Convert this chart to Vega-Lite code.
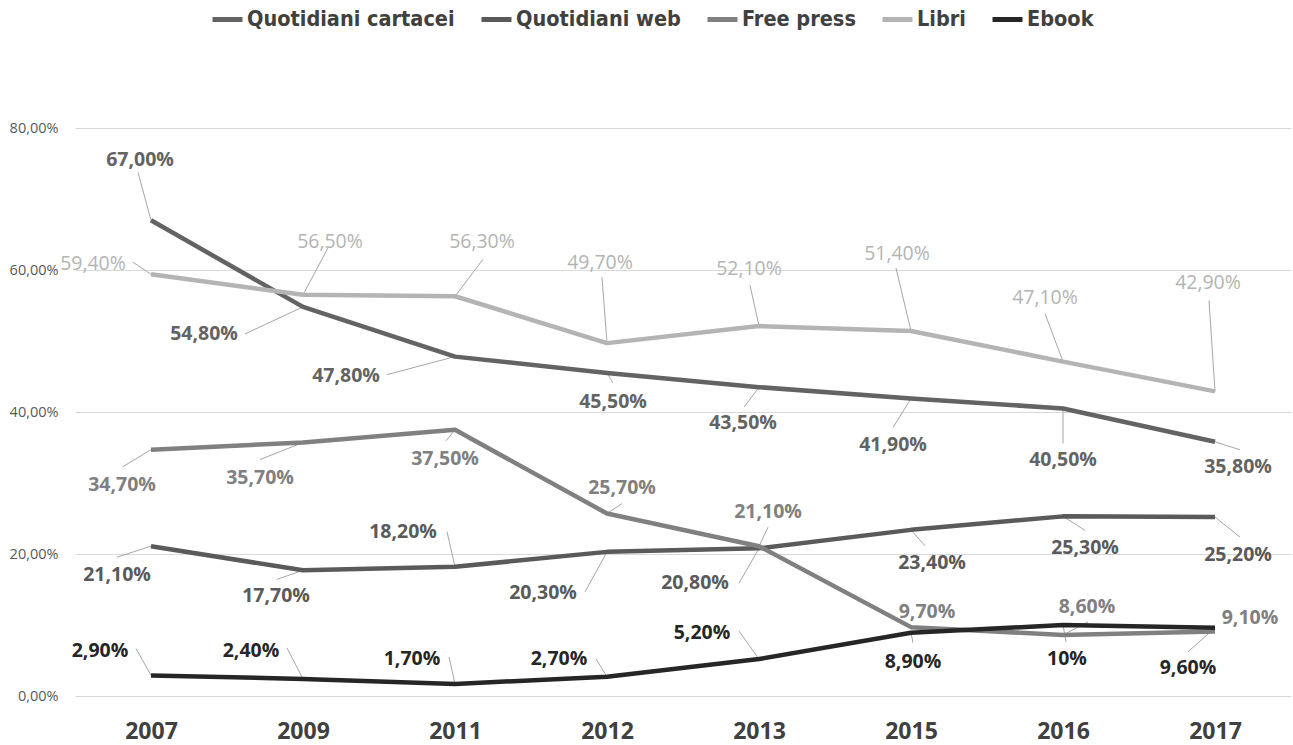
{
"$schema":"https://vega.github.io/schema/vega-lite/v6.json",
"autosize":{"type":"none"},
"width":1216,"height":568,
"padding":{"left":75,"top":128,"right":2,"bottom":49},
"background":"white",
"data":{"values":[
{"s":"Quotidiani cartacei","year":"2007","v":67.0,"label":"67,00%"},
{"s":"Quotidiani cartacei","year":"2009","v":54.8,"label":"54,80%"},
{"s":"Quotidiani cartacei","year":"2011","v":47.8,"label":"47,80%"},
{"s":"Quotidiani cartacei","year":"2012","v":45.5,"label":"45,50%"},
{"s":"Quotidiani cartacei","year":"2013","v":43.5,"label":"43,50%"},
{"s":"Quotidiani cartacei","year":"2015","v":41.9,"label":"41,90%"},
{"s":"Quotidiani cartacei","year":"2016","v":40.5,"label":"40,50%"},
{"s":"Quotidiani cartacei","year":"2017","v":35.8,"label":"35,80%"},
{"s":"Quotidiani web","year":"2007","v":21.1,"label":"21,10%"},
{"s":"Quotidiani web","year":"2009","v":17.7,"label":"17,70%"},
{"s":"Quotidiani web","year":"2011","v":18.2,"label":"18,20%"},
{"s":"Quotidiani web","year":"2012","v":20.3,"label":"20,30%"},
{"s":"Quotidiani web","year":"2013","v":20.8,"label":"20,80%"},
{"s":"Quotidiani web","year":"2015","v":23.4,"label":"23,40%"},
{"s":"Quotidiani web","year":"2016","v":25.3,"label":"25,30%"},
{"s":"Quotidiani web","year":"2017","v":25.2,"label":"25,20%"},
{"s":"Free press","year":"2007","v":34.7,"label":"34,70%"},
{"s":"Free press","year":"2009","v":35.7,"label":"35,70%"},
{"s":"Free press","year":"2011","v":37.5,"label":"37,50%"},
{"s":"Free press","year":"2012","v":25.7,"label":"25,70%"},
{"s":"Free press","year":"2013","v":21.1,"label":"21,10%"},
{"s":"Free press","year":"2015","v":9.7,"label":"9,70%"},
{"s":"Free press","year":"2016","v":8.6,"label":"8,60%"},
{"s":"Free press","year":"2017","v":9.1,"label":"9,10%"},
{"s":"Libri","year":"2007","v":59.4,"label":"59,40%"},
{"s":"Libri","year":"2009","v":56.5,"label":"56,50%"},
{"s":"Libri","year":"2011","v":56.3,"label":"56,30%"},
{"s":"Libri","year":"2012","v":49.7,"label":"49,70%"},
{"s":"Libri","year":"2013","v":52.1,"label":"52,10%"},
{"s":"Libri","year":"2015","v":51.4,"label":"51,40%"},
{"s":"Libri","year":"2016","v":47.1,"label":"47,10%"},
{"s":"Libri","year":"2017","v":42.9,"label":"42,90%"},
{"s":"Ebook","year":"2007","v":2.9,"label":"2,90%"},
{"s":"Ebook","year":"2009","v":2.4,"label":"2,40%"},
{"s":"Ebook","year":"2011","v":1.7,"label":"1,70%"},
{"s":"Ebook","year":"2012","v":2.7,"label":"2,70%"},
{"s":"Ebook","year":"2013","v":5.2,"label":"5,20%"},
{"s":"Ebook","year":"2015","v":8.9,"label":"8,90%"},
{"s":"Ebook","year":"2016","v":10,"label":"10%"},
{"s":"Ebook","year":"2017","v":9.6,"label":"9,60%"}
]},
"encoding":{
 "x":{"field":"year","type":"ordinal","scale":{"type":"point","padding":0.5},"sort":null,
  "axis":{"title":null,"domain":false,"ticks":false,"grid":false,"labelAngle":0,"labelFont":"Open Sans","labelFontSize":23,"labelFontWeight":"bold","labelColor":"#404040","labelPadding":24}},
 "y":{"field":"v","type":"quantitative","scale":{"domain":[0,80],"nice":false},
  "axis":{"title":null,"domain":false,"ticks":false,"values":[0,20,40,60,80],"gridColor":"#d9d9d9","gridWidth":1,"labelFont":"Open Sans","labelFontSize":14.5,"labelColor":"#595959","labelPadding":17,"labelExpr":"replace(format(datum.value,'.2f'),'.',',')+'%'"}}
},
"layer":[
 {"layer":[
  {"transform":[{"filter":"datum.s=='Quotidiani cartacei'"}],"layer":[
   {"transform":[{"filter":"datum.year=='2007'"}],"mark":{"type":"rule","x2Offset":-13,"y2Offset":-48}},
   {"transform":[{"filter":"datum.year=='2009'"}],"mark":{"type":"rule","x2Offset":-58,"y2Offset":27}},
   {"transform":[{"filter":"datum.year=='2011'"}],"mark":{"type":"rule","x2Offset":-68,"y2Offset":18}},
   {"transform":[{"filter":"datum.year=='2012'"}],"mark":{"type":"rule","x2Offset":6,"y2Offset":10}},
   {"transform":[{"filter":"datum.year=='2013'"}],"mark":{"type":"rule","x2Offset":-15,"y2Offset":20}},
   {"transform":[{"filter":"datum.year=='2015'"}],"mark":{"type":"rule","x2Offset":-18,"y2Offset":29}},
   {"transform":[{"filter":"datum.year=='2016'"}],"mark":{"type":"rule","x2Offset":0,"y2Offset":35}},
   {"transform":[{"filter":"datum.year=='2017'"}],"mark":{"type":"rule","x2Offset":25,"y2Offset":8}}
  ]},
  {"transform":[{"filter":"datum.s=='Libri'"}],"layer":[
   {"transform":[{"filter":"datum.year=='2007'"}],"mark":{"type":"rule","x2Offset":-18,"y2Offset":-12}},
   {"transform":[{"filter":"datum.year=='2009'"}],"mark":{"type":"rule","x2Offset":25,"y2Offset":-47}},
   {"transform":[{"filter":"datum.year=='2011'"}],"mark":{"type":"rule","x2Offset":28,"y2Offset":-37}},
   {"transform":[{"filter":"datum.year=='2012'"}],"mark":{"type":"rule","x2Offset":-5,"y2Offset":-66}},
   {"transform":[{"filter":"datum.year=='2013'"}],"mark":{"type":"rule","x2Offset":-9,"y2Offset":-41}},
   {"transform":[{"filter":"datum.year=='2015'"}],"mark":{"type":"rule","x2Offset":-15,"y2Offset":-63}},
   {"transform":[{"filter":"datum.year=='2016'"}],"mark":{"type":"rule","x2Offset":-18,"y2Offset":-48}},
   {"transform":[{"filter":"datum.year=='2017'"}],"mark":{"type":"rule","x2Offset":-6,"y2Offset":-91}}
  ]},
  {"transform":[{"filter":"datum.s=='Free press'"}],"layer":[
   {"transform":[{"filter":"datum.year=='2007'"}],"mark":{"type":"rule","x2Offset":-28,"y2Offset":17}},
   {"transform":[{"filter":"datum.year=='2009'"}],"mark":{"type":"rule","x2Offset":-43,"y2Offset":17}},
   {"transform":[{"filter":"datum.year=='2011'"}],"mark":{"type":"rule","x2Offset":-9,"y2Offset":11}},
   {"transform":[{"filter":"datum.year=='2012'"}],"mark":{"type":"rule","x2Offset":15,"y2Offset":-10}},
   {"transform":[{"filter":"datum.year=='2013'"}],"mark":{"type":"rule","x2Offset":9,"y2Offset":-19}},
   {"transform":[{"filter":"datum.year=='2016'"}],"mark":{"type":"rule","x2Offset":25,"y2Offset":-13}}
  ]},
  {"transform":[{"filter":"datum.s=='Quotidiani web'"}],"layer":[
   {"transform":[{"filter":"datum.year=='2007'"}],"mark":{"type":"rule","x2Offset":-34,"y2Offset":11}},
   {"transform":[{"filter":"datum.year=='2009'"}],"mark":{"type":"rule","x2Offset":-26,"y2Offset":9}},
   {"transform":[{"filter":"datum.year=='2011'"}],"mark":{"type":"rule","x2Offset":-8,"y2Offset":-35}},
   {"transform":[{"filter":"datum.year=='2012'"}],"mark":{"type":"rule","x2Offset":-22,"y2Offset":40}},
   {"transform":[{"filter":"datum.year=='2013'"}],"mark":{"type":"rule","x2Offset":-20,"y2Offset":35}},
   {"transform":[{"filter":"datum.year=='2015'"}],"mark":{"type":"rule","x2Offset":14,"y2Offset":16}},
   {"transform":[{"filter":"datum.year=='2016'"}],"mark":{"type":"rule","x2Offset":22,"y2Offset":14}},
   {"transform":[{"filter":"datum.year=='2017'"}],"mark":{"type":"rule","x2Offset":25,"y2Offset":20}}
  ]},
  {"transform":[{"filter":"datum.s=='Ebook'"}],"layer":[
   {"transform":[{"filter":"datum.year=='2007'"}],"mark":{"type":"rule","x2Offset":-15,"y2Offset":-27}},
   {"transform":[{"filter":"datum.year=='2009'"}],"mark":{"type":"rule","x2Offset":-16,"y2Offset":-31}},
   {"transform":[{"filter":"datum.year=='2011'"}],"mark":{"type":"rule","x2Offset":-6,"y2Offset":-27}},
   {"transform":[{"filter":"datum.year=='2012'"}],"mark":{"type":"rule","x2Offset":-11,"y2Offset":-18}},
   {"transform":[{"filter":"datum.year=='2013'"}],"mark":{"type":"rule","x2Offset":-20,"y2Offset":-28}},
   {"transform":[{"filter":"datum.year=='2015'"}],"mark":{"type":"rule","x2Offset":2,"y2Offset":10}},
   {"transform":[{"filter":"datum.year=='2016'"}],"mark":{"type":"rule","x2Offset":3,"y2Offset":17}},
   {"transform":[{"filter":"datum.year=='2017'"}],"mark":{"type":"rule","x2Offset":-27,"y2Offset":24}}
  ]}
 ],
 "encoding":{"x2":{"field":"year"},"y2":{"field":"v"}}},
 {"mark":{"type":"line","strokeWidth":4.5,"strokeJoin":"round"},
  "encoding":{"color":{"field":"s","type":"nominal","sort":null,
   "scale":{"domain":["Quotidiani cartacei","Quotidiani web","Free press","Libri","Ebook"],"range":["#636363","#5a5a5a","#808080","#b4b4b4","#262626"]},
   "legend":{"title":null,"orient":"none","legendX":135,"legendY":-126,"direction":"horizontal","symbolType":"stroke","symbolSize":900,"symbolStrokeWidth":5,"labelFont":"DejaVu Sans Condensed, Roboto","labelFontSize":21.5,"labelFontWeight":"bold","labelColor":"#404040","labelOffset":2,"columnPadding":16,"labelLimit":400}}}},
 {"encoding":{"color":{"field":"s","type":"nominal","legend":null},"text":{"field":"label"}},
  "layer":[
  {"transform":[{"filter":"datum.s=='Quotidiani cartacei'"}],"layer":[
   {"transform":[{"filter":"datum.year=='2007'"}],"mark":{"type":"text","dx":-11,"dy":-60}},
   {"transform":[{"filter":"datum.year=='2009'"}],"mark":{"type":"text","dx":-99,"dy":27}},
   {"transform":[{"filter":"datum.year=='2011'"}],"mark":{"type":"text","dx":-109,"dy":19}},
   {"transform":[{"filter":"datum.year=='2012'"}],"mark":{"type":"text","dx":6,"dy":29}},
   {"transform":[{"filter":"datum.year=='2013'"}],"mark":{"type":"text","dx":-16,"dy":36}},
   {"transform":[{"filter":"datum.year=='2015'"}],"mark":{"type":"text","dx":-18,"dy":46}},
   {"transform":[{"filter":"datum.year=='2016'"}],"mark":{"type":"text","dx":0,"dy":52}},
   {"transform":[{"filter":"datum.year=='2017'"}],"mark":{"type":"text","dx":23,"dy":25}}
  ]},
  {"transform":[{"filter":"datum.s=='Libri'"}],"layer":[
   {"transform":[{"filter":"datum.year=='2007'"}],"mark":{"type":"text","fontWeight":"normal","dx":-58,"dy":-10}},
   {"transform":[{"filter":"datum.year=='2009'"}],"mark":{"type":"text","fontWeight":"normal","dx":27,"dy":-53}},
   {"transform":[{"filter":"datum.year=='2011'"}],"mark":{"type":"text","fontWeight":"normal","dx":27,"dy":-54}},
   {"transform":[{"filter":"datum.year=='2012'"}],"mark":{"type":"text","fontWeight":"normal","dx":-7,"dy":-80}},
   {"transform":[{"filter":"datum.year=='2013'"}],"mark":{"type":"text","fontWeight":"normal","dx":-10,"dy":-57}},
   {"transform":[{"filter":"datum.year=='2015'"}],"mark":{"type":"text","fontWeight":"normal","dx":-14,"dy":-77}},
   {"transform":[{"filter":"datum.year=='2016'"}],"mark":{"type":"text","fontWeight":"normal","dx":-18,"dy":-64}},
   {"transform":[{"filter":"datum.year=='2017'"}],"mark":{"type":"text","fontWeight":"normal","dx":-7,"dy":-108}}
  ]},
  {"transform":[{"filter":"datum.s=='Free press'"}],"layer":[
   {"transform":[{"filter":"datum.year=='2007'"}],"mark":{"type":"text","dx":-29,"dy":35}},
   {"transform":[{"filter":"datum.year=='2009'"}],"mark":{"type":"text","dx":-43,"dy":35}},
   {"transform":[{"filter":"datum.year=='2011'"}],"mark":{"type":"text","dx":-10,"dy":29}},
   {"transform":[{"filter":"datum.year=='2012'"}],"mark":{"type":"text","dx":15,"dy":-26}},
   {"transform":[{"filter":"datum.year=='2013'"}],"mark":{"type":"text","dx":9,"dy":-34}},
   {"transform":[{"filter":"datum.year=='2015'"}],"mark":{"type":"text","dx":16,"dy":-15}},
   {"transform":[{"filter":"datum.year=='2016'"}],"mark":{"type":"text","dx":24,"dy":-28}},
   {"transform":[{"filter":"datum.year=='2017'"}],"mark":{"type":"text","dx":35,"dy":-13}}
  ]},
  {"transform":[{"filter":"datum.s=='Quotidiani web'"}],"layer":[
   {"transform":[{"filter":"datum.year=='2007'"}],"mark":{"type":"text","dx":-34,"dy":29}},
   {"transform":[{"filter":"datum.year=='2009'"}],"mark":{"type":"text","dx":-27,"dy":26}},
   {"transform":[{"filter":"datum.year=='2011'"}],"mark":{"type":"text","dx":-52,"dy":-35}},
   {"transform":[{"filter":"datum.year=='2012'"}],"mark":{"type":"text","dx":-64,"dy":41}},
   {"transform":[{"filter":"datum.year=='2013'"}],"mark":{"type":"text","dx":-64,"dy":35}},
   {"transform":[{"filter":"datum.year=='2015'"}],"mark":{"type":"text","dx":21,"dy":33}},
   {"transform":[{"filter":"datum.year=='2016'"}],"mark":{"type":"text","dx":22,"dy":32}},
   {"transform":[{"filter":"datum.year=='2017'"}],"mark":{"type":"text","dx":23,"dy":38}}
  ]},
  {"transform":[{"filter":"datum.s=='Ebook'"}],"layer":[
   {"transform":[{"filter":"datum.year=='2007'"}],"mark":{"type":"text","dx":-51,"dy":-24}},
   {"transform":[{"filter":"datum.year=='2009'"}],"mark":{"type":"text","dx":-52,"dy":-28}},
   {"transform":[{"filter":"datum.year=='2011'"}],"mark":{"type":"text","dx":-43,"dy":-25}},
   {"transform":[{"filter":"datum.year=='2012'"}],"mark":{"type":"text","dx":-48,"dy":-18}},
   {"transform":[{"filter":"datum.year=='2013'"}],"mark":{"type":"text","dx":-57,"dy":-26}},
   {"transform":[{"filter":"datum.year=='2015'"}],"mark":{"type":"text","dx":2,"dy":29}},
   {"transform":[{"filter":"datum.year=='2016'"}],"mark":{"type":"text","dx":4,"dy":34}},
   {"transform":[{"filter":"datum.year=='2017'"}],"mark":{"type":"text","dx":-27,"dy":40}}
  ]}
 ]}
],
"config":{
 "view":{"stroke":null},
 "text":{"font":"Open Sans","fontSize":19.5,"fontWeight":"bold","align":"center","baseline":"middle"},
 "rule":{"color":"#a6a6a6","strokeWidth":1}
}
}
